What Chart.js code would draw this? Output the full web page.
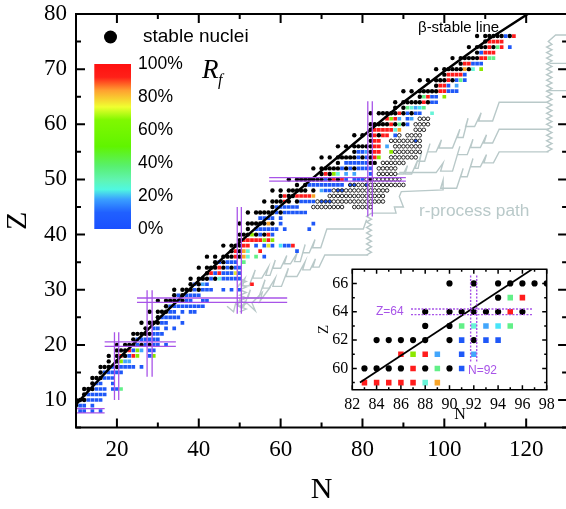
<!DOCTYPE html>
<html><head><meta charset="utf-8">
<style>
html,body{margin:0;padding:0;background:#fff;overflow:hidden;width:566px;height:509px}
#main{position:absolute;left:0;top:0}
#inset{position:absolute;left:315px;top:255px}
</style>
<script src="https://cdn.jsdelivr.net/npm/chart.js@4/dist/chart.umd.min.js"></script>
</head><body>
<canvas id="main" width="572" height="509"></canvas>
<canvas id="inset" width="251" height="185"></canvas>
<script>
// ---------- main chart data: [Z, [N, N, ...]] rows per class ----------
const stable=[[76,[108,110,111,112,113,114,116]],[75,[110]],[74,[106,108,109,110,112]],[73,[108]],[72,[102,104,105,106,107,108]],[71,[104]],[70,[98,100,101,102,103,104,106]],[69,[100]],[68,[94,96,98,99,100,102]],[67,[98]],[66,[90,92,94,95,96,97,98]],[65,[94]],[64,[88,90,91,92,93,94,96]],[63,[88,90]],[62,[82,84,85,86,87,88,90,92]],[60,[82,83,84,85,86,88,90]],[59,[82]],[58,[78,80,82,84]],[57,[82]],[56,[74,76,78,79,80,81,82]],[55,[78,82]],[54,[70,72,74,75,76,77,78,80,82]],[53,[74,82,83]],[52,[68,70,71,72,73,74,76,78]],[51,[70,72]],[50,[62,64,65,66,67,68,69,70,72,74,82]],[49,[64,66]],[48,[58,60,62,63,64,65,66,68]],[47,[60,62,63]],[46,[56,58,59,60,62,64]],[45,[58]],[44,[52,54,55,56,57,58,60]],[42,[50,52,53,54,55,56,58]],[41,[52]],[40,[50,51,52,54,56]],[39,[50]],[38,[46,48,49,50]],[37,[48,50]],[36,[42,44,46,47,48,50]],[35,[44,46]],[34,[40,42,43,44,46,48]],[33,[42]],[32,[38,40,41,42,44]],[31,[38,40]],[30,[34,36,37,38,40]],[29,[34,36]],[28,[30,32,33,34,36]],[27,[32]],[26,[28,30,31,32]],[25,[30]],[24,[26,28,29,30]],[23,[27]],[22,[24,25,26,27,28]],[21,[24]],[20,[20,22,23,24,26,28]],[19,[20,21,22]],[18,[18,20,22]],[17,[18,20]],[16,[16,17,18,20]],[15,[16]],[14,[14,15,16]],[13,[14]],[12,[12,13,14]],[11,[12]],[10,[10,11,12]],[9,[10]]];
const blue=[[76,[115]],[74,[116]],[73,[109]],[71,[107,108,109]],[69,[105]],[68,[103,105]],[67,[101]],[66,[101,102,103]],[65,[97,98]],[64,[97,98]],[62,[91,93,94]],[61,[91]],[60,[91]],[58,[88]],[55,[79,80]],[54,[79,81]],[53,[76,77,78,79,80,81]],[52,[75,77,79,80,81,82]],[51,[82]],[50,[71,76,78,79,80]],[49,[67,68,69,70,71,72,73,74,75]],[48,[71,72]],[46,[65,66,67,68]],[45,[59,60,61,62,63,64]],[44,[59,61,62,63,64,65,66]],[43,[55,56,57,58,60]],[42,[60,68]],[41,[54,55,56,57,58,59,61,67]],[40,[55,58]],[38,[54,56,58,61,62]],[37,[64]],[36,[56]],[35,[45,47,48,49]],[34,[47,49,50]],[33,[44,46,47,48,50]],[32,[43,46,47,48,49,50]],[31,[39,42]],[30,[39,41,42,43,46,48,50]],[29,[35,37,38,39,40]],[28,[35,37,38,41,42]],[27,[33,34,35,36,37,38,39,40,41]],[26,[33,34,36,38,39]],[25,[31,32,33,34,35]],[24,[31,32,36]],[23,[29,30,32,34]],[22,[29,30,31]],[21,[25,26,27,28,29,30]],[20,[25,27,29,30,32]],[19,[24,28,29]],[18,[23,28]],[16,[19,21,22,23,24,26]],[15,[17,18,19,20,21]],[14,[17,18,19]],[13,[15,16,19]],[12,[15,16,17,19,20]],[11,[13,14,15,16,17]],[10,[13,14,15,16]],[9,[11,12,14]],[8,[11,12,14,16]]];
const lightBlue=[[67,[103]],[63,[93]],[61,[89,92]],[56,[86]],[55,[81]],[51,[76,78]],[48,[70]],[31,[41]],[19,[26]],[17,[22,23]]];
const cyan=[[63,[94]],[38,[60]]];
const teal=[[70,[107]],[63,[92]],[62,[97]],[59,[88]],[51,[74]],[37,[52]],[36,[52]],[32,[45]]];
const green=[[74,[113]],[72,[111,112]],[68,[104]],[65,[95]],[63,[91,95]],[60,[89]],[36,[54]],[35,[51]],[12,[21]]];
const lime=[[70,[109]],[65,[100]],[61,[87]],[55,[87]],[54,[84]],[51,[73]],[40,[53]],[39,[56,58]],[19,[25]],[18,[25,29]],[17,[21]]];
const yellow=[[38,[57]],[33,[49]]];
const orange=[[70,[105]],[59,[89]],[47,[68]],[42,[57]],[37,[51]],[36,[51]]];
const red=[[76,[117]],[75,[111,112,113,114]],[74,[111,114]],[73,[110,111,112]],[72,[109,110]],[71,[105,106]],[69,[101,102,103,104]],[68,[101]],[67,[99,100]],[66,[99,100]],[65,[96]],[64,[95]],[62,[89]],[61,[86,88]],[60,[87]],[59,[83,84,85,86,87]],[58,[83,85,86]],[57,[83,84]],[56,[83,84]],[55,[83,84]],[54,[83]],[51,[71]],[50,[73,75]],[47,[61,64,65,66,67]],[46,[61]],[40,[57]],[39,[51,52,53,54,55,57]],[38,[51,52,63]],[37,[49,55]],[36,[49]],[34,[45]],[33,[43,45]],[31,[53]],[19,[23]],[18,[21,24]]];
const openCircle=[[61,[94,95,96]],[60,[93,94,95,96]],[59,[93,94,95]],[58,[89,91,92,93,94]],[57,[87,88,89,90,91,92,94]],[56,[88,89,90,91,92,93,94]],[55,[88,89,90,91,92,93,94]],[54,[87,88,89,90,91,92,93]],[53,[85,86,87,88,89,90]],[52,[84,85,86,87,88]],[51,[84,85,86,87,88]],[50,[81,83,84,85,86,87,88,89]],[49,[79,80,82,83,84,85,86,87,88,89,90]],[48,[73,76,77,78,79,80,81,82,83,84,85,86]],[47,[72,73,74,75,76,77,78,79,80,81,82,83,84,85]],[46,[69,73,74,75,76,77,78,79,80,81,82,83,84,85]],[45,[68,69,70,71,72,73,74,75,78,79,80,81,82]]];
const openBlue=[[57,[93]],[49,[77,78,81]],[48,[74,75]],[46,[70,71,72]]];
const betaLine=[[10,9.2],[20,17.2],[30,24.6],[40,31.7],[50,38.6],[60,45.2],[70,51.6],[80,57.8],[90,64],[100,69.6],[110,75],[120.4,80]];
// r-process path tracks, [N, Z]
const pathLowA=[[49.5,30.5],[51.3,32.1],[50.7,30.7],[52.3,30.7],[53.8,33.6],[53.2,32.1],[55.4,32.1],[57,34.1],[56.4,32.6],[57.4,32.6],[58.7,35.4],[58.1,33.9],[60,33.9],[61.5,36.2],[60.9,34.7],[62.4,34.7],[64,36.6],[63.4,35.1],[64.8,35.1],[66,38.2],[65.4,36.7],[67,36.7],[68.4,39.1],[67.8,37.6],[69.8,37.6],[71.3,41],[80.2,41],[81,42.7]];
const pathLowB=[[50.1,28.5],[49.6,27],[51,27],[52.6,30],[52,28.5],[54.6,28.5],[56.2,31.8],[55.6,30.3],[57.2,30.3],[58.7,32.1],[58.1,30.6],[60.2,30.6],[61.9,33.9],[61.3,32.4],[64,32.4],[66,35.1],[65.4,33.6],[67.2,33.6],[68.5,35.6],[67.9,34.1],[69.4,34.1],[70.8,36.3],[81.4,36.3]];
const pathLowC=[[46.9,27],[48.5,26],[49,27.5],[50.5,26.6],[51.3,27.9],[53.8,26.2],[53,27.6],[55.5,29.5],[55,28],[57.5,30.5]];
const pathHighA=[[88,51],[90,51],[91,52.5],[90.4,51],[92,51],[93.5,53.5],[92.9,52],[93.6,52],[94.4,54.8],[93.8,53.3],[95.2,53.3],[96.5,56.5],[95.9,55],[98,55],[99.3,57.2],[98.7,55.7],[102,55.7],[103.8,59.1],[103.2,57.6],[104.6,57.6],[105.8,61.1],[105.2,59.6],[107.4,59.6],[109,62.1],[108.4,60.6],[111.8,60.6],[113.4,64],[125,64]];
const pathHighB=[[89,51.25],[95.2,51.25],[98,51.25],[99.7,53],[99.1,51.5],[102,51.5],[103.8,56],[103.2,54.5],[105.6,54.5],[107,57.3],[106.4,55.8],[108.8,55.8],[110.3,58.1],[109.7,56.6],[111.8,56.6],[113.4,59.1],[125.5,59.1]];
const pathHighC=[[82.2,43.9],[88.2,43.9],[87.8,45],[90,45],[89,46.9],[89.5,47.8],[99.7,48.1],[99.7,49.9],[99.1,48.4],[103,48.4],[104.6,52],[104,50.5],[105.6,50.5],[107,53.8],[106.4,52.3],[108.8,52.3],[110.3,54.5],[109.7,53],[112,53],[113.4,55],[125.5,55]];
const pathZig50=[[50,26],[51.6,26.5],[50,27],[51.6,27.5],[50,28],[51.6,28.5],[50,29],[51.6,29.5],[50,30],[51.6,30.5],[50,31],[51.6,31.5],[50,32]];
const pathZig82=[[81,36.3],[82.2,36.8],[81,37.3],[82.2,37.8],[81,38.3],[82.2,38.8],[81,39.3],[82.2,39.8],[81,40.3],[82.2,40.8],[81,41.3],[82.2,41.8],[81,42.3],[82.2,42.8],[81,43.3],[82.2,43.9]];
const pathZig126=[[125,55],[126.3,55.5],[125,56],[126.3,56.5],[125,57],[126.3,57.5],[125,58],[126.3,58.5],[125,59],[126.3,59.5],[125,60],[126.3,60.5],[125,61],[126.3,61.5],[125,62],[126.3,62.5],[125,63],[126.3,63.5],[125,64],[126.3,64.5],[125,65],[126.3,65.5],[125,66],[126.3,66.5],[125,67],[126.3,67.5],[125,68],[126.3,68.5],[125,69],[126.3,69.5],[125,70],[126.3,70.5],[125,71],[126.3,71.5],[125,72],[126.3,72.5],[125,73],[126.3,73.5],[125,74],[126.3,74.5],[125.4,75],[127.2,76.2],[130,76.2]];
const pathOutA=[[125.7,71.05],[130,71.05]];
const pathOutB=[[125,66.1],[130,66.1]];
// magic-number guide lines, [N, Z]
const magicLines=[
 [[19.4,22.3],[19.4,10]],[[20.44,22.3],[20.44,10]],
 [[27.37,29.9],[27.37,14.2]],[[28.6,29.9],[28.6,14.2]],
 [[49.4,45],[49.4,25.65]],[[50.4,45],[50.4,25.65]],
 [[81.3,64.2],[81.3,43.3]],[[82.4,64.2],[82.4,43.3]],
 [[10.1,8.44],[17,8.44]],[[10.1,7.66],[17,7.66]],
 [[17,20.53],[34.4,20.53]],[[17,19.73],[34.4,19.73]],
 [[24.9,28.5],[61.6,28.5]],[[24.9,27.7],[61.6,27.7]],
 [[57.2,50.34],[90.6,50.34]],[[57.2,49.7],[90.6,49.7]]
];
const barStops=[[0,'#1a50ff'],[0.1,'#2060ff'],[0.18,'#3aa0ff'],[0.24,'#50f8e0'],[0.3,'#60f4b0'],[0.38,'#58f070'],[0.5,'#60f400'],[0.66,'#80f800'],[0.74,'#f0ff30'],[0.84,'#ffa030'],[0.92,'#ff2018'],[1,'#ff1010']];
const barLabels=['100%','80%','60%','40%','20%','0%'];
// ---------- inset data ----------
const inStable=[[66,[90,92,94,95,96,97,98]],[65,[94]],[64,[88,90,91,92,93,94,96]],[63,[88,90]],[62,[84,85,86,87,88,90,92]],[60,[83,84,85,86,88,90]]];
const inRed=[[65,[96]],[64,[95]],[61,[86,88]],[60,[87]],[59,[83,84,85,86,87]]];
const inGreen=[[65,[95]],[63,[91,95]],[60,[89]]];
const inTeal=[[63,[92]],[59,[88]]];
const inLightBlue=[[63,[93]],[61,[89,92]]];
const inCyan=[[63,[94]]];
const inBlue=[[62,[91,93,94]],[61,[91]],[60,[91]]];
const inLime=[[61,[87]]];
const inOrange=[[59,[89]]];
const inLine=[[82.63,59],[96.8,67]];
const inGuides=[[[86.83,64.2],[96.85,64.2]],[[86.83,63.8],[96.85,63.8]],[[91.74,66.56],[91.74,60.38]],[[92.24,66.56],[92.24,60.38]]];
const inZTicks=[59,60,61,62,63,64,65,66];

const COL={blue:'#1f58f8',lightBlue:'#42a6fc',cyan:'#48e4f8',teal:'#68f4d8',green:'#62f088',lime:'#8ce800',yellow:'#e4e830',orange:'#f8a428',red:'#ff1c1c',purple:'#a854e8',gray:'#b9c9c9'};
const SANS='"Liberation Sans"',SERIF='"Liberation Serif"';
const pts=rows=>rows.flatMap(([z,ns])=>ns.map(n=>({x:n,y:z})));
const xy=a=>a.map(([x,y])=>({x,y}));
const rects=(rows,c,r,order)=>({data:pts(rows),pointStyle:'rect',pointRadius:r,backgroundColor:c,borderColor:c,borderWidth:0,showLine:false,order});
const line=(a,c,w,order,extra)=>Object.assign({data:xy(a),showLine:true,pointRadius:0,borderColor:c,borderWidth:w,fill:false,tension:0,order},extra||{});

function frame(majorLen,minorLen,isMajorX,isMajorY,w){return {id:'frame',afterDatasetsDraw(ch){
  const c=ch.ctx,a=ch.chartArea,X=ch.scales.x,Y=ch.scales.y;
  c.save();c.strokeStyle='#000';c.lineWidth=w;c.beginPath();
  X.ticks.forEach(t=>{const p=X.getPixelForValue(t.value),l=isMajorX(t.value)?majorLen:minorLen;
    c.moveTo(p,a.bottom);c.lineTo(p,a.bottom-l);c.moveTo(p,a.top);c.lineTo(p,a.top+l);});
  Y.ticks.forEach(t=>{const p=Y.getPixelForValue(t.value),l=isMajorY(t.value)?majorLen:minorLen;
    c.moveTo(a.left,p);c.lineTo(a.left+l,p);c.moveTo(a.right,p);c.lineTo(a.right-l,p);});
  c.stroke();
  c.beginPath();c.rect(a.left,a.top,a.right-a.left,a.bottom-a.top);c.stroke();
  c.restore();
}};}
function scale(o){return {type:'linear',min:o.min,max:o.max,
  grid:{display:false,drawTicks:false},border:{display:false},
  ticks:{stepSize:o.step,autoSkip:false,maxRotation:0,padding:o.pad,color:'#000',font:{family:SERIF,size:o.font},callback:o.cb},
  title:{display:!!o.title,text:o.title||'',color:'#000',font:{family:SERIF,size:o.tfont},padding:o.tpad},
  afterFit(s){if(o.h!==undefined)s.height=o.h;if(o.w!==undefined)s.width=o.w;s.paddingLeft=s.paddingRight=s.paddingTop=s.paddingBottom=0;},
  afterBuildTicks:o.ticks?(s=>{s.ticks=o.ticks.map(v=>({value:v}));}):undefined};}

const annot={id:'annot',afterDraw(ch){
  const c=ch.ctx;c.save();
  c.fillStyle='#000';c.beginPath();c.arc(110.5,37,6.5,0,Math.PI*2);c.fill();
  c.textBaseline='middle';c.textAlign='left';
  c.font='19px '+SANS;c.fillText('stable nuclei',143,37);
  const top=64,bot=229,g=c.createLinearGradient(0,bot,0,top);
  barStops.forEach(([f,col])=>g.addColorStop(f,col));
  c.fillStyle=g;c.fillRect(94.3,top,36.7,bot-top);
  c.fillStyle='#000';c.font='17.5px '+SANS;
  barLabels.forEach((t,i)=>c.fillText(t,138,top+(bot-top)*i/(barLabels.length-1)));
  c.font='italic 27px '+SERIF;c.fillText('R',202,71);
  c.font='italic 16px '+SERIF;c.fillText('f',218,81);
  c.font='15px '+SANS;c.fillStyle='#000';c.fillText('β-stable line',418,28);
  c.font='17.3px '+SANS;c.fillStyle=COL.gray;c.fillText('r-process path',419,211);
  c.restore();
}};

const SQ=2.6;
const mainDatasets=[
  ...[pathLowA,pathLowB,pathLowC,pathHighA,pathHighB,pathHighC,pathZig50,pathZig82,pathZig126,pathOutA,pathOutB].map(p=>line(p,COL.gray,1.4,60)),
  rects(blue,COL.blue,SQ,20),rects(lightBlue,COL.lightBlue,SQ,20),rects(cyan,COL.cyan,SQ,20),rects(teal,COL.teal,SQ,20),
  rects(green,COL.green,SQ,20),rects(lime,COL.lime,SQ,20),rects(yellow,COL.yellow,SQ,20),rects(orange,COL.orange,SQ,20),rects(red,COL.red,SQ,20),
  {data:pts(openCircle),pointStyle:'circle',pointRadius:1.8,backgroundColor:'#fff',borderColor:'#111',borderWidth:0.9,showLine:false,order:18},
  {data:pts(openBlue),pointStyle:'circle',pointRadius:1.8,backgroundColor:COL.blue,borderColor:'#111',borderWidth:0.9,showLine:false,order:18},
  {data:pts(stable),pointStyle:'circle',pointRadius:2.2,backgroundColor:'#000',borderWidth:0,showLine:false,order:10},
  line(betaLine,'#000',2.5,5),
  ...magicLines.map(m=>line(m,COL.purple,1.3,2))
];

new Chart(document.getElementById('main'),{type:'scatter',data:{datasets:mainDatasets},plugins:[frame(9,5,v=>v%20===0,v=>v%10===0,2),annot],
 options:{responsive:false,animation:false,devicePixelRatio:1,
  layout:{padding:{top:14,right:4,left:0,bottom:0}},
  plugins:{legend:{display:false},tooltip:{enabled:false}},
  scales:{
   x:scale({min:10,max:130,step:10,pad:9,font:23,title:'N',tfont:30,tpad:{top:0,bottom:1},h:81.4,cb:v=>v%20===0?String(v):''}),
   y:scale({min:5,max:80,step:5,pad:9,font:23,title:'Z',tfont:30,tpad:{top:0,bottom:0},w:76,cb:v=>v%10===0?String(v):''})
  }}});

const inAnnot={id:'inAnnot',afterDraw(ch){
  const c=ch.ctx;c.save();c.fillStyle=COL.purple;c.font='12px '+SANS;c.textBaseline='middle';
  c.fillText('Z=64',61,57);c.fillText('N=92',153,116);
  c.fillStyle='#000';c.font='16px '+SERIF;c.textAlign='center';c.fillText('N',145,160);
  c.restore();
}};
const IS=3.9;
new Chart(document.getElementById('inset'),{type:'scatter',data:{datasets:[
  rects(inRed,COL.red,IS,20),rects(inGreen,COL.green,IS,20),rects(inTeal,COL.teal,IS,20),rects(inLightBlue,COL.lightBlue,IS,20),
  rects(inCyan,COL.cyan,IS,20),rects(inBlue,COL.blue,IS,20),rects(inLime,COL.lime,IS,20),rects(inOrange,COL.orange,IS,20),
  {data:pts(inStable),pointStyle:'circle',pointRadius:3.1,backgroundColor:'#000',borderWidth:0,showLine:false,order:10},
  line(inLine,'#000',1.8,5),
  ...inGuides.map(m=>line(m,COL.purple,1.4,2,{borderDash:[2,1.5]}))
 ]},plugins:[frame(4.5,2.5,v=>v%2===0,v=>v%2===0,1.5),inAnnot],
 options:{responsive:false,animation:false,devicePixelRatio:1,
  layout:{padding:{top:14.3,right:19.3,left:0,bottom:0}},
  plugins:{legend:{display:false},tooltip:{enabled:false}},
  scales:{
   x:scale({min:82,max:98,step:1,pad:5,font:16,tfont:16,tpad:0,h:50.3,cb:v=>v%2===0?String(v):''}),
   y:scale({min:58.5,max:67,ticks:inZTicks,pad:4,font:16,title:'Z',tfont:15,tpad:{top:0,bottom:0},w:37.3,cb:v=>v%2===0?String(v):''})
  }}});
</script>
</body></html>
